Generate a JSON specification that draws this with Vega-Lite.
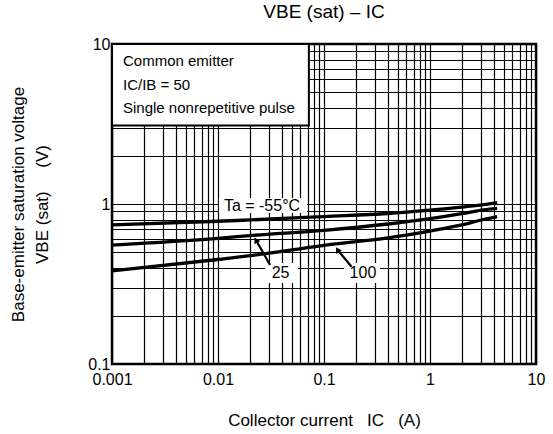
{
  "$schema": "https://vega.github.io/schema/vega-lite/v6.json",
  "description": "VBE(sat) vs IC at three ambient temperatures, log-log",
  "width": 424,
  "height": 320,
  "autosize": {"type": "none"},
  "padding": {"left": 112, "top": 44, "right": 17, "bottom": 70},
  "background": "white",
  "title": {
    "text": "VBE (sat) – IC",
    "fontSize": 19,
    "fontWeight": "normal",
    "color": "black",
    "offset": 14
  },
  "config": {
    "font": "Liberation Sans",
    "view": {"stroke": "black", "strokeWidth": 2.5},
    "axis": {
      "grid": true,
      "gridColor": "black",
      "gridWidth": 1.2,
      "ticks": false,
      "domain": false,
      "labelColor": "black",
      "labelFontSize": 16,
      "labelOverlap": false,
      "labelBound": false,
      "labelFlush": false,
      "titleColor": "black",
      "titleFontSize": 17,
      "titleFontWeight": "normal"
    }
  },
  "datasets": {
    "curves": [
      {"ta": "-55", "ic": 0.001, "vbe": 0.74},
      {"ta": "-55", "ic": 0.01, "vbe": 0.78},
      {"ta": "-55", "ic": 0.02, "vbe": 0.795},
      {"ta": "-55", "ic": 0.1, "vbe": 0.835},
      {"ta": "-55", "ic": 0.4, "vbe": 0.872},
      {"ta": "-55", "ic": 1, "vbe": 0.915},
      {"ta": "-55", "ic": 2, "vbe": 0.955},
      {"ta": "-55", "ic": 3.2, "vbe": 0.99},
      {"ta": "-55", "ic": 4.3, "vbe": 1.02},
      {"ta": "25", "ic": 0.001, "vbe": 0.554},
      {"ta": "25", "ic": 0.01, "vbe": 0.61},
      {"ta": "25", "ic": 0.02, "vbe": 0.635},
      {"ta": "25", "ic": 0.1, "vbe": 0.685},
      {"ta": "25", "ic": 0.4, "vbe": 0.75},
      {"ta": "25", "ic": 1, "vbe": 0.81},
      {"ta": "25", "ic": 2, "vbe": 0.87},
      {"ta": "25", "ic": 3.2, "vbe": 0.92},
      {"ta": "25", "ic": 4.3, "vbe": 0.94},
      {"ta": "100", "ic": 0.001, "vbe": 0.382},
      {"ta": "100", "ic": 0.01, "vbe": 0.45},
      {"ta": "100", "ic": 0.02, "vbe": 0.475},
      {"ta": "100", "ic": 0.1, "vbe": 0.552},
      {"ta": "100", "ic": 0.4, "vbe": 0.615},
      {"ta": "100", "ic": 1, "vbe": 0.678},
      {"ta": "100", "ic": 2, "vbe": 0.74},
      {"ta": "100", "ic": 3.2, "vbe": 0.8},
      {"ta": "100", "ic": 4.3, "vbe": 0.834}
    ],
    "notes": [
      {"ic": 0.00127, "vbe": 7.83, "text": "Common emitter"},
      {"ic": 0.00127, "vbe": 5.54, "text": "IC/IB = 50"},
      {"ic": 0.00127, "vbe": 3.98, "text": "Single nonrepetitive pulse"}
    ],
    "noteBox": [
      {"ic": 0.001, "ic2": 0.072, "vbe": 3.1, "vbe2": 10}
    ],
    "labelBoxes": [
      {"ic": 0.0102, "ic2": 0.0692, "vbe": 0.879, "vbe2": 1.09},
      {"ic": 0.0277, "ic2": 0.0569, "vbe": 0.321, "vbe2": 0.428},
      {"ic": 0.1545, "ic2": 0.337, "vbe": 0.321, "vbe2": 0.428}
    ],
    "labels": [
      {"ic": 0.026, "vbe": 0.978, "text": "Ta = -55°C"},
      {"ic": 0.0389, "vbe": 0.37, "text": "25"},
      {"ic": 0.233, "vbe": 0.37, "text": "100"}
    ],
    "arrows": [
      {"arrow": "25", "end": "tail", "ic": 0.031, "vbe": 0.416},
      {"arrow": "25", "end": "tip", "ic": 0.0228, "vbe": 0.596},
      {"arrow": "100", "end": "tail", "ic": 0.182, "vbe": 0.405},
      {"arrow": "100", "end": "tip", "ic": 0.134, "vbe": 0.518}
    ]
  },
  "layer": [
    {
      "data": {"name": "curves"},
      "mark": {"type": "line", "color": "black", "strokeWidth": 3.3, "interpolate": "monotone"},
      "encoding": {
        "x": {
          "field": "ic",
          "type": "quantitative",
          "scale": {"type": "log", "domain": [0.001, 10], "nice": false},
          "axis": {
            "title": "Collector current \u00a0 IC \u00a0 (A)",
            "format": "~g",
            "tickValues": [0.001, 0.002, 0.003, 0.004, 0.005, 0.006, 0.007, 0.008, 0.009,
                           0.01, 0.02, 0.03, 0.04, 0.05, 0.06, 0.07, 0.08, 0.09,
                           0.1, 0.2, 0.3, 0.4, 0.5, 0.6, 0.7, 0.8, 0.9,
                           1, 2, 3, 4, 5, 6, 7, 8, 9, 10],
            "labelExpr": "abs(log(datum.value)/LN10 - round(log(datum.value)/LN10)) < 0.01 ? datum.label : ''",
            "labelPadding": 7,
            "titlePadding": 25
          }
        },
        "y": {
          "field": "vbe",
          "type": "quantitative",
          "scale": {"type": "log", "domain": [0.1, 10], "nice": false},
          "axis": {
            "title": ["Base-emitter saturation voltage", "VBE (sat) \u00a0 \u00a0 (V)"],
            "format": "~g",
            "tickValues": [0.1, 0.2, 0.3, 0.4, 0.5, 0.6, 0.7, 0.8, 0.9,
                           1, 2, 3, 4, 5, 6, 7, 8, 9, 10],
            "labelExpr": "abs(log(datum.value)/LN10 - round(log(datum.value)/LN10)) < 0.01 ? datum.label : ''",
            "labelPadding": 2,
            "titlePadding": 36,
            "titleLineHeight": 24
          }
        },
        "detail": {"field": "ta", "type": "nominal"}
      }
    },
    {
      "data": {"name": "noteBox"},
      "mark": {"type": "rect", "fill": "white", "stroke": "black", "strokeWidth": 2},
      "encoding": {
        "x": {"field": "ic", "type": "quantitative"},
        "x2": {"field": "ic2"},
        "y": {"field": "vbe", "type": "quantitative"},
        "y2": {"field": "vbe2"}
      }
    },
    {
      "data": {"name": "notes"},
      "mark": {"type": "text", "align": "left", "baseline": "middle", "fontSize": 15, "color": "black"},
      "encoding": {
        "x": {"field": "ic", "type": "quantitative"},
        "y": {"field": "vbe", "type": "quantitative"},
        "text": {"field": "text"}
      }
    },
    {
      "data": {"name": "labelBoxes"},
      "mark": {"type": "rect", "fill": "white"},
      "encoding": {
        "x": {"field": "ic", "type": "quantitative"},
        "x2": {"field": "ic2"},
        "y": {"field": "vbe", "type": "quantitative"},
        "y2": {"field": "vbe2"}
      }
    },
    {
      "data": {"name": "labels"},
      "mark": {"type": "text", "align": "center", "baseline": "middle", "fontSize": 16, "color": "black"},
      "encoding": {
        "x": {"field": "ic", "type": "quantitative"},
        "y": {"field": "vbe", "type": "quantitative"},
        "text": {"field": "text"}
      }
    },
    {
      "data": {"name": "arrows"},
      "mark": {"type": "line", "color": "black", "strokeWidth": 2.2},
      "encoding": {
        "x": {"field": "ic", "type": "quantitative"},
        "y": {"field": "vbe", "type": "quantitative"},
        "detail": {"field": "arrow", "type": "nominal"}
      }
    },
    {
      "data": {"name": "arrows"},
      "transform": [{"filter": "datum.end == 'tip' && datum.arrow == '25'"}],
      "mark": {"type": "point", "shape": "triangle-up", "filled": true, "color": "black", "size": 45, "angle": -29, "opacity": 1},
      "encoding": {
        "x": {"field": "ic", "type": "quantitative"},
        "y": {"field": "vbe", "type": "quantitative"}
      }
    },
    {
      "data": {"name": "arrows"},
      "transform": [{"filter": "datum.end == 'tip' && datum.arrow == '100'"}],
      "mark": {"type": "point", "shape": "triangle-up", "filled": true, "color": "black", "size": 45, "angle": -34, "opacity": 1},
      "encoding": {
        "x": {"field": "ic", "type": "quantitative"},
        "y": {"field": "vbe", "type": "quantitative"}
      }
    }
  ]
}
